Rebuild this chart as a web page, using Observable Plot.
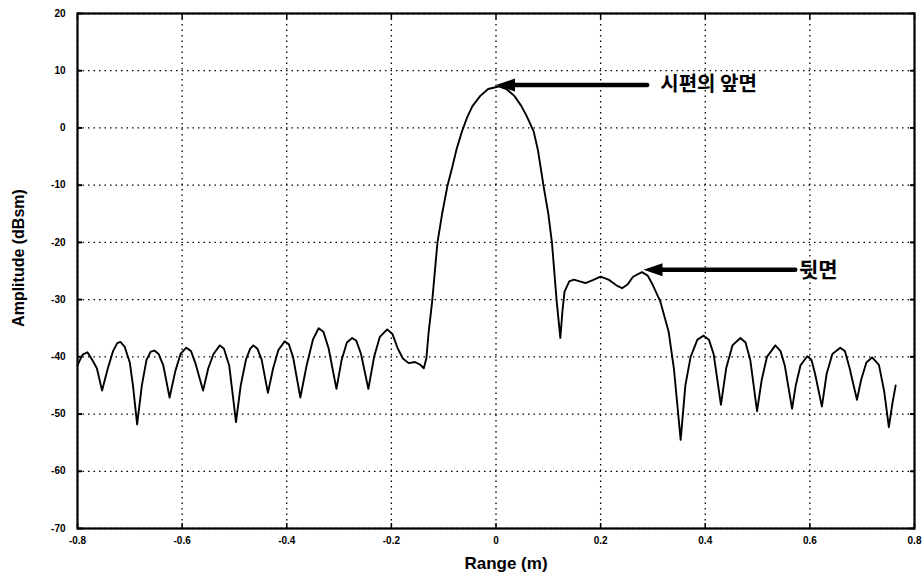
<!DOCTYPE html>
<html><head><meta charset="utf-8">
<script src="https://cdn.jsdelivr.net/npm/d3@7"></script>
<script src="https://cdn.jsdelivr.net/npm/@observablehq/plot@0.6"></script>
<style>
body{margin:0;background:#fff;}
</style></head><body><div id="chart"></div>
<script>
const rangeM = [
-0.800,-0.795,-0.790,-0.781,-0.772,-0.763,-0.753,-0.742,-0.732,-0.724,-0.718,-0.710,-0.700,-0.694,-0.686,-0.677,-0.668,-0.660,-0.653,-0.645,-0.636,-0.624,-0.613,-0.603,-0.592,-0.583,-0.575,-0.560,-0.550,-0.540,-0.528,-0.520,-0.510,-0.497,-0.488,-0.478,-0.470,-0.464,-0.456,-0.448,-0.436,-0.426,-0.416,-0.404,-0.396,-0.388,-0.374,-0.362,-0.350,-0.339,-0.330,-0.320,-0.305,-0.295,-0.285,-0.275,-0.267,-0.258,-0.244,-0.233,-0.222,-0.208,-0.198,-0.188,-0.178,-0.167,-0.155,-0.146,-0.138,-0.133,-0.129,-0.122,-0.112,-0.103,-0.093,-0.084,-0.075,-0.065,-0.055,-0.045,-0.030,-0.015,0.005,0.020,0.035,0.048,0.058,0.072,0.080,0.086,0.091,0.100,0.107,0.116,0.123,0.127,0.131,0.140,0.149,0.160,0.171,0.185,0.200,0.215,0.230,0.241,0.252,0.262,0.279,0.290,0.300,0.314,0.330,0.340,0.353,0.362,0.372,0.385,0.397,0.407,0.416,0.430,0.440,0.452,0.467,0.477,0.486,0.499,0.508,0.518,0.534,0.544,0.552,0.566,0.573,0.582,0.595,0.603,0.610,0.623,0.632,0.643,0.658,0.667,0.676,0.690,0.698,0.708,0.719,0.732,0.742,0.751,0.758,0.764];
const amplitude = [
-41.5,-40.5,-39.6,-39.2,-40.5,-42.0,-45.9,-42.0,-39.0,-37.6,-37.4,-38.2,-41.0,-45.0,-51.8,-45.0,-40.5,-39.1,-38.9,-39.5,-41.5,-47.1,-42.5,-39.5,-38.4,-39.0,-41.0,-45.9,-42.0,-39.5,-38.0,-38.6,-41.5,-51.4,-45.0,-40.5,-38.6,-38.0,-38.6,-40.5,-46.3,-42.0,-38.8,-37.3,-37.8,-40.0,-47.1,-41.5,-37.0,-35.0,-35.6,-38.5,-45.6,-40.5,-37.5,-36.7,-37.2,-39.5,-45.6,-40.0,-36.5,-35.2,-36.0,-38.5,-40.3,-41.1,-40.9,-41.3,-42.0,-40.2,-35.9,-30.3,-20.1,-15.0,-10.2,-7.0,-3.6,-0.6,1.9,3.8,5.6,6.8,7.25,6.8,5.6,3.9,2.2,-0.6,-3.8,-7.3,-10.2,-15.0,-20.1,-30.3,-36.7,-32.0,-28.6,-26.8,-26.5,-26.8,-27.1,-26.6,-26.0,-26.5,-27.5,-28.0,-27.3,-26.0,-25.2,-25.8,-27.5,-30.3,-35.6,-42.0,-54.5,-45.0,-40.0,-37.0,-36.3,-37.0,-39.5,-48.4,-42.0,-38.0,-36.7,-37.5,-40.5,-49.5,-44.0,-40.0,-38.0,-39.0,-41.5,-49.1,-45.0,-41.5,-39.9,-40.5,-43.0,-48.7,-43.0,-39.5,-38.4,-39.0,-42.0,-47.5,-44.0,-41.0,-40.1,-41.4,-46.0,-52.3,-48.0,-45.0];
const xTicks = [-0.8,-0.6,-0.4,-0.2,0,0.2,0.4,0.6,0.8];
const yTicks = [20,10,0,-10,-20,-30,-40,-50,-60,-70];
const noteLabels = ["시편의 앞면", "뒷면"];
const noteFromX = [0.289, 0.572];
const noteToX = [0.0, 0.282];
const noteY = [7.5, -24.8];
const noteTextX = [0.314, 0.579];

const series = rangeM.map((x, i) => ({x, y: amplitude[i]}));
const notes = noteLabels.map((label, i) => ({label, x1: noteFromX[i], x2: noteToX[i], y: noteY[i], lx: noteTextX[i]}));
const headSymbol = {draw(ctx) { ctx.moveTo(0, 0); ctx.lineTo(19, -6.5); ctx.lineTo(19, 6.5); ctx.closePath(); }};
const gridStyle = {stroke: "#000", strokeOpacity: 1, strokeWidth: 1.3, strokeDasharray: "1.5,4"};

const chart = Plot.plot({
  width: 924, height: 579,
  marginLeft: 77, marginRight: 10, marginTop: 13, marginBottom: 51,
  x: {domain: [-0.8, 0.8]},
  y: {domain: [-70, 20]},
  style: {fontFamily: "Arial, 'Liberation Sans', sans-serif", fontSize: "10px", fontWeight: "bold", color: "#000", background: "#fff"},
  marks: [
    Plot.gridX(xTicks, gridStyle),
    Plot.gridY(yTicks, gridStyle),
    Plot.line(series, {x: "x", y: "y", stroke: "#000", strokeWidth: 1.9}),
    Plot.axisX(xTicks, {anchor: "bottom", tickSize: -5, tickPadding: 13, tickFormat: d => d === 0 ? "0" : d.toFixed(1), label: null, strokeWidth: 1.5, fontSize: 10}),
    Plot.axisX(xTicks, {anchor: "top", tickSize: -5, fill: "none", label: null, strokeWidth: 1.5}),
    Plot.axisY(yTicks, {anchor: "left", tickSize: -5, tickPadding: 17, tickFormat: d => String(d), label: null, strokeWidth: 2, fontSize: 10}),
    Plot.axisY(yTicks, {anchor: "right", tickSize: -5, fill: "none", label: null, strokeWidth: 2}),
    Plot.frame({stroke: "#000", strokeWidth: 2.2}),
    Plot.arrow(notes, {x1: "x1", y1: "y", x2: "x2", y2: "y", headLength: 0, insetEnd: 12, stroke: "#000", strokeWidth: 4.5}),
    Plot.dot(notes, {x: "x2", y: "y", symbol: headSymbol, fill: "#000", stroke: "none"}),
    Plot.text(notes, {filter: (d, i) => i === 0, x: "lx", y: "y", text: "label", textAnchor: "start", fontFamily: "'Noto Sans CJK KR', sans-serif", fontSize: 20, fontWeight: "bold"}),
    Plot.text(notes, {filter: (d, i) => i === 1, x: "lx", y: "y", text: "label", textAnchor: "start", fontFamily: "'Noto Sans CJK KR', sans-serif", fontSize: 21, fontWeight: "bold"}),
    Plot.text(["Range (m)"], {frameAnchor: "bottom", textAnchor: "middle", lineAnchor: "middle", dy: 35, dx: 10, fontSize: 17, fontWeight: "bold"}),
    Plot.text(["Amplitude (dBsm)"], {frameAnchor: "left", textAnchor: "middle", lineAnchor: "middle", rotate: -90, dx: -59, dy: -13, fontSize: 16, fontWeight: "bold"})
  ]
});
document.getElementById("chart").appendChild(chart);
</script></body></html>
